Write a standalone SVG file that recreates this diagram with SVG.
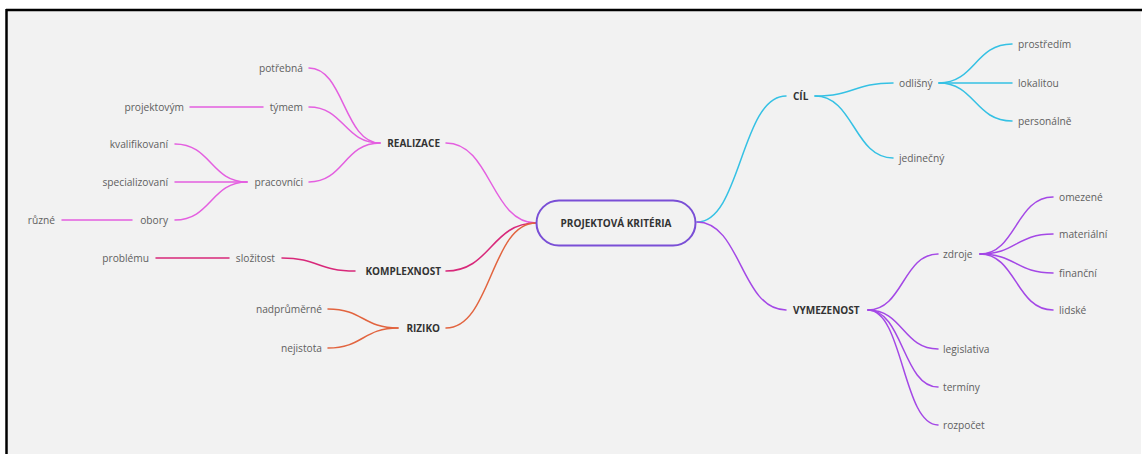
<svg xmlns="http://www.w3.org/2000/svg" width="1142" height="454" viewBox="0 0 1142 454">
  <style>
    .lbl { font-family: "Open Sans", "Noto Sans", "Liberation Sans", sans-serif; font-size: 10.2px; fill: #606060; }
    .main { font-family: "Open Sans", "Noto Sans", "Liberation Sans", sans-serif; font-size: 10px; font-weight: 700; fill: #333333; }
    .l { text-anchor: end; }
    .edge { fill: none; stroke-width: 1.5; stroke-linecap: round; }
    .realizace { stroke: #e45fe0; }
    .komplex { stroke: #d8287a; }
    .riziko { stroke: #e2643f; }
    .cil { stroke: #35c1e4; }
    .vymez { stroke: #a448e6; }
  </style>

  <!-- canvas -->
  <rect x="0" y="0" width="1142" height="454" fill="#ffffff"/>
  <rect x="7" y="10" width="1134" height="444" fill="#f2f2f2"/>
  <line x1="6" y1="10" x2="1142" y2="10" stroke="#000000" stroke-width="2.5"/>
  <line x1="6.5" y1="9" x2="6.5" y2="454" stroke="#000000" stroke-width="2.5"/>

  <!-- connectors -->
  <g id="connectors">
    <path class="edge realizace" d="M536 223 C491 223 491 143 446 143"/>
    <path class="edge komplex" d="M536 223 C491 223 491 271 446 271"/>
    <path class="edge riziko" d="M536 223 C491 223 491 328 446 328"/>

    <path class="edge realizace" d="M380 143 C344 143 344 68 309 68"/>
    <path class="edge realizace" d="M380 143 C344 143 344 107 309 107"/>
    <path class="edge realizace" d="M380 143 C344 143 344 182 309 182"/>
    <path class="edge realizace" d="M263 107 L190 107"/>
    <path class="edge realizace" d="M247 182 C211 182 211 144 175 144"/>
    <path class="edge realizace" d="M247 182 L175 182"/>
    <path class="edge realizace" d="M247 182 C211 182 211 220 175 220"/>
    <path class="edge realizace" d="M132 220 L62 220"/>

    <path class="edge komplex" d="M355 271 C318 271 318 258 282 258"/>
    <path class="edge komplex" d="M229 258 L156 258"/>

    <path class="edge riziko" d="M398 328 C363 328 363 309 328 309"/>
    <path class="edge riziko" d="M398 328 C363 328 363 348 328 348"/>

    <path class="edge cil" d="M697 222 C741 222 741 96 786 96"/>
    <path class="edge cil" d="M815 96 C854 96 854 83 893 83"/>
    <path class="edge cil" d="M815 96 C854 96 854 158 893 158"/>
    <path class="edge cil" d="M939 83 C975 83 975 44 1012 44"/>
    <path class="edge cil" d="M939 83 L1012 83"/>
    <path class="edge cil" d="M939 83 C975 83 975 121 1012 121"/>

    <path class="edge vymez" d="M697 222 C741 222 741 310 786 310"/>
    <path class="edge vymez" d="M868 310 C903 310 903 254 938 254"/>
    <path class="edge vymez" d="M868 310 C903 310 903 349 938 349"/>
    <path class="edge vymez" d="M868 310 C903 310 903 387 938 387"/>
    <path class="edge vymez" d="M868 310 C903 310 903 425 938 425"/>
    <path class="edge vymez" d="M980 254 C1016 254 1016 197 1053 197"/>
    <path class="edge vymez" d="M980 254 C1016 254 1016 234 1053 234"/>
    <path class="edge vymez" d="M980 254 C1016 254 1016 273 1053 273"/>
    <path class="edge vymez" d="M980 254 C1016 254 1016 310 1053 310"/>
  </g>

  <!-- central topic -->
  <g id="center">
    <rect x="536.5" y="200.5" width="159" height="45" rx="22.5" fill="#f2f2f2" stroke="#7a4fd6" stroke-width="2"/>
    <text class="main" x="616" y="226.5" text-anchor="middle">PROJEKTOVÁ KRITÉRIA</text>
  </g>

  <!-- left branches -->
  <g id="realizace"><text class="main l" x="440" y="146.5">REALIZACE</text></g>
  <g id="potrebna"><text class="lbl l" x="303" y="71.5">potřebná</text></g>
  <g id="tymem"><text class="lbl l" x="303" y="110.5">týmem</text></g>
  <g id="projektovym"><text class="lbl l" x="184" y="110.5">projektovým</text></g>
  <g id="pracovnici"><text class="lbl l" x="303" y="185.5">pracovníci</text></g>
  <g id="kvalifikovani"><text class="lbl l" x="168" y="147.5">kvalifikovaní</text></g>
  <g id="specializovani"><text class="lbl l" x="168" y="185.5">specializovaní</text></g>
  <g id="obory"><text class="lbl l" x="168" y="223.5">obory</text></g>
  <g id="ruzne"><text class="lbl l" x="55" y="223.5">různé</text></g>

  <g id="komplexnost"><text class="main l" x="441" y="274.5">KOMPLEXNOST</text></g>
  <g id="slozitost"><text class="lbl l" x="275" y="261.5">složitost</text></g>
  <g id="problemu"><text class="lbl l" x="149" y="261.5">problému</text></g>

  <g id="riziko"><text class="main l" x="440" y="331.5">RIZIKO</text></g>
  <g id="nadprumerne"><text class="lbl l" x="322" y="312.5">nadprůměrné</text></g>
  <g id="nejistota"><text class="lbl l" x="322" y="351.5">nejistota</text></g>

  <!-- right branches -->
  <g id="cil"><text class="main" x="793" y="99.5">CÍL</text></g>
  <g id="odlisny"><text class="lbl" x="899" y="86.5">odlišný</text></g>
  <g id="jedinecny"><text class="lbl" x="899" y="161.5">jedinečný</text></g>
  <g id="prostredim"><text class="lbl" x="1018" y="47.5">prostředím</text></g>
  <g id="lokalitou"><text class="lbl" x="1018" y="86.5">lokalitou</text></g>
  <g id="personalne"><text class="lbl" x="1018" y="124.5">personálně</text></g>

  <g id="vymezenost"><text class="main" x="793" y="313.5">VYMEZENOST</text></g>
  <g id="zdroje"><text class="lbl" x="943" y="257.5">zdroje</text></g>
  <g id="legislativa"><text class="lbl" x="943" y="352.5">legislativa</text></g>
  <g id="terminy"><text class="lbl" x="943" y="390.5">termíny</text></g>
  <g id="rozpocet"><text class="lbl" x="943" y="428.5">rozpočet</text></g>
  <g id="omezene"><text class="lbl" x="1059" y="200.5">omezené</text></g>
  <g id="materialni"><text class="lbl" x="1059" y="237.5">materiální</text></g>
  <g id="financni"><text class="lbl" x="1059" y="276.5">finanční</text></g>
  <g id="lidske"><text class="lbl" x="1059" y="313.5">lidské</text></g>
</svg>
